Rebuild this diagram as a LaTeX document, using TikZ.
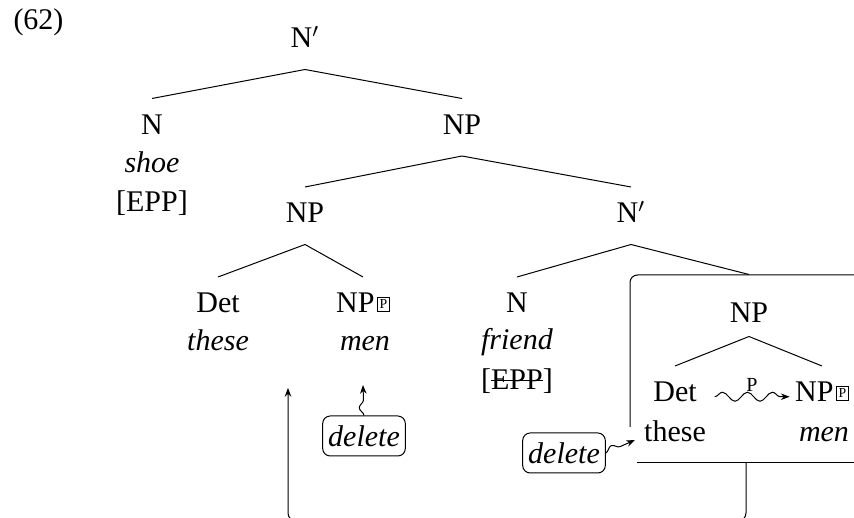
\documentclass[tikz,border=0pt]{standalone}
\usepackage{fontspec}
\setmainfont{Liberation Serif}
\usetikzlibrary{decorations.pathmorphing}
\usetikzlibrary{arrows.meta}
\newcommand{\pbox}{\kern1pt\raisebox{1.6pt}{\setlength{\fboxsep}{0.7pt}\setlength{\fboxrule}{0.35pt}\fbox{\fontsize{5.5}{6}\selectfont P}}}
\newcommand{\strikeout}[1]{{\setbox0=\hbox{#1}\rlap{\rule[3.6pt]{\wd0}{0.45pt}}\box0}}
\tikzset{
  every node/.style={font=\fontsize{12}{14}\selectfont},
  cat/.style={anchor=base, inner xsep=0pt, inner ysep=6.2pt, text height=8pt, text depth=2.2pt},
  word/.style={anchor=base, inner sep=0pt},
  delbox/.style={draw, rounded corners=3pt, inner xsep=2.2pt, inner ysep=3pt, minimum height=16pt, font=\fontsize{12}{14}\selectfont\itshape},
  wavy/.style={decorate, decoration={snake, amplitude=1.8pt, segment length=10pt, post length=2.5pt}, -{Stealth[length=3.5pt]}},
}
\begin{document}
\begin{tikzpicture}[x=0.4pt,y=-0.4pt]
  \useasboundingbox (0,0) rectangle (854,518);
  \clip (0,0) rectangle (854,518);
  \node[word, anchor=base west] (ex) at (13,30) {(62)};
  \node[cat] (nbar) at (305,48) {N$'$};
  \node[cat] (n) at (152,134.5) {N};
  \node[word] (shoe) at (152,173) {\textit{shoe}};
  \node[word] (epp) at (152,212) {[EPP]};
  \node[cat] (np) at (462,134.5) {NP};
  \node[cat] (npl) at (305,223) {NP};
  \node[cat] (nbarr) at (631,223) {N$'$};
  \node[cat] (det) at (218,313) {Det};
  \node[word] (these) at (218,351) {\textit{these}};
  \node[cat] (npp) at (363,313) {NP\pbox};
  \node[word] (men) at (365,351) {\textit{men}};
  \node[cat] (nf) at (517,313) {N};
  \node[word] (friend) at (517,350) {\textit{friend}};
  \node[word] (eppx) at (517,390) {[\strikeout{EPP}]};
  \node[cat] (npin) at (749,323) {NP};
  \node[cat] (detin) at (675,402) {Det};
  \node[word] (thesein) at (675,442) {these};
  \node[cat] (nppin) at (822,402) {NP\pbox};
  \node[word] (menin) at (824,442) {\textit{men}};
  \node[word, font=\fontsize{8}{9}\selectfont] (plab) at (752,392) {P};

  \draw (nbar.south) -- (n.north);
  \draw (nbar.south) -- (np.north);
  \draw (np.south) -- (npl.north);
  \draw (np.south) -- (nbarr.north);
  \draw (npl.south) -- (det.north);
  \draw (npl.south) -- (npp.north);
  \draw (nbarr.south) -- (nf.north);
  \draw (nbarr.south) -- ([yshift=5pt]npin.north);
  \draw ([yshift=3.2pt]npin.south) -- (detin.north);
  \draw ([yshift=3.2pt]npin.south) -- (nppin.north);
  \draw[wavy] ([xshift=7pt,yshift=-0.8pt]detin.east) -- ([xshift=-2pt,yshift=-0.8pt]nppin.west);

  \draw[rounded corners=3pt] (630,427) -- (630,275) -- (880,275);
  \draw (637,463) -- (880,463);

  \node[delbox] (del1) at (364,436) {delete};
  \node[delbox] (del2) at (564,453) {delete};
  \coordinate (mentip) at (363,385);
  \coordinate (boxtip) at (635,440);
  \draw[wavy] (del1.north) -- (mentip);
  \draw[wavy] (del2.east) -- (boxtip);

  \coordinate (foot) at (746,463);
  \coordinate (trace) at (288,388);
  \draw[-{Stealth[length=3.5pt]}, rounded corners=3.2pt] (foot) -- (746,521) -- (288,521) -- (trace);
\end{tikzpicture}
\end{document}
